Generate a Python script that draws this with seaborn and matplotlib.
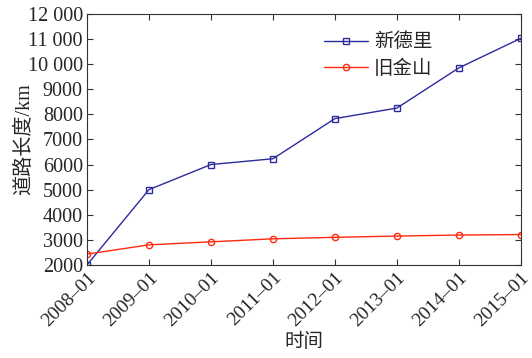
import numpy as np
import pandas as pd
import matplotlib.pyplot as plt
import seaborn as sns

years = ['2008\u201301', '2009\u201301', '2010\u201301', '2011\u201301',
         '2012\u201301', '2013\u201301', '2014\u201301', '2015\u201301']
delhi = [2000, 5000, 6000, 6230, 7830, 8250, 9850, 11030]
sanfran = [2430, 2800, 2920, 3040, 3100, 3150, 3190, 3210]
yticks = [2000, 3000, 4000, 5000, 6000, 7000, 8000, 9000, 10000, 11000, 12000]
ytick_labels = ['2000', '3000', '4000', '5000', '6000', '7000', '8000', '9000',
                '10 000', '11 000', '12 000']

sns.set_style('ticks')
plt.rcParams['font.family'] = ['Liberation Serif', 'Noto Sans CJK SC']
plt.rcParams['axes.unicode_minus'] = False

idx = np.arange(len(years))
df = pd.DataFrame({'x': np.concatenate([idx, idx]),
                   'y': delhi + sanfran,
                   'city': ['新德里'] * len(years) + ['旧金山'] * len(years)})

fig = plt.figure(figsize=(5.32, 3.58), dpi=100)
ax = fig.add_axes([0.1635, 0.26, 0.8155, 0.701])
sns.lineplot(data=df, x='x', y='y', hue='city', style='city',
             palette={'新德里': '#2b2b9c', '旧金山': '#ff2a10'},
             markers={'新德里': 's', '旧金山': 'o'}, dashes=False,
             markersize=4.5, markerfacecolor='none', markeredgewidth=1.0,
             linewidth=1.0, ax=ax)
for line in ax.lines:
    line.set_markeredgecolor(line.get_color())
    line.set_markerfacecolor('none')

ax.set_xlim(0, len(years) - 1)
ax.set_ylim(2000, 12000)
ax.set_xticks(idx)
ax.set_xticklabels(years, rotation=45, ha='right', rotation_mode='anchor')
ax.set_yticks(yticks)
ax.set_yticklabels(ytick_labels)
ax.tick_params(direction='in', top=True, right=True, labelsize=14.5, length=4,
               color='#333333', pad=3)
ax.tick_params(axis='x', labelsize=14)
for s in ax.spines.values():
    s.set_color('#333333')
    s.set_linewidth(0.8)
ax.set_xlabel('时间', fontsize=14, labelpad=2)
ax.set_ylabel('道路长度/km', fontsize=14.5, labelpad=-5)

leg = ax.legend(loc='upper left', bbox_to_anchor=(0.505, 0.995), frameon=False,
                fontsize=14, handlelength=2.3, handletextpad=0.3, labelspacing=0.4)
for h in leg.legend_handles:
    h.set_markerfacecolor('none')
    h.set_markeredgecolor(h.get_color())

fig.savefig('out.png', dpi=100)
